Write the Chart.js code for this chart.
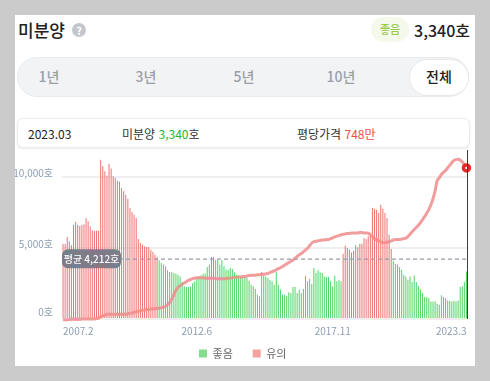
<!DOCTYPE html>
<html lang="ko">
<head>
<meta charset="utf-8">
<script src="https://cdn.jsdelivr.net/npm/chart.js@4"></script>
<style>
  * { box-sizing: border-box; }
  body { margin: 0; width: 490px; height: 381px; background: #cbcbcb; overflow: hidden; font-family: "Noto Sans CJK KR", "Noto Sans", sans-serif; color: #222; }
  #panel { position: absolute; left: 15px; top: 15px; width: 460px; height: 351px; background: #fff; }
  .abs { position: absolute; white-space: nowrap; line-height: 1; }
  #title { left: 3px; top: 6px; font-size: 17px; font-weight: 500; line-height: 18px; }
  #help { left: 57px; top: 8px; width: 14px; height: 14px; border-radius: 50%; background: #c3c6cb; color: #fff; font-size: 11px; font-weight: 700; line-height: 14px; text-align: center; }
  #badge { left: 356px; top: 2px; width: 38px; height: 25px; border-radius: 13px; background: #f4f9ec; color: #9acb4b; font-size: 11px; font-weight: 500; line-height: 25px; text-align: center; }
  #now { right: 5px; top: 6px; font-size: 16px; font-weight: 500; line-height: 18px; }
  #tabs { left: 2px; top: 42px; width: 452px; height: 40px; border-radius: 20px; background: #f1f3f5; border: 1px solid #e9ebee; }
  .tab { top: 50px; width: 60px; text-align: center; font-size: 14px; font-weight: 500; color: #9a9fa7; line-height: 22px; }
  #active { left: 394px; top: 44px; width: 60px; height: 37px; border-radius: 19px; background: #fff; border: 1px solid #e8e9eb; }
  #info { left: 2px; top: 103px; width: 453px; height: 30px; border-radius: 6px; background: #fff; border: 1px solid #ececec; box-shadow: 0 1px 2px rgba(0,0,0,.08); }
  .cell { top: 111px; font-size: 12px; line-height: 15px; color: #333; }
  canvas { position: absolute; left: 0; top: 135px; }
</style>
</head>
<body>
<div id="panel">
  <div class="abs" id="title">미분양</div>
  <div class="abs" id="help">?</div>
  <div class="abs" id="badge">좋음</div>
  <div class="abs" id="now">3,340호</div>
  <div class="abs" id="tabs"></div>
  <div class="abs" id="active"></div>
  <div class="abs tab" style="left:4px">1년</div>
  <div class="abs tab" style="left:101px">3년</div>
  <div class="abs tab" style="left:199px">5년</div>
  <div class="abs tab" style="left:296px">10년</div>
  <div class="abs tab" style="left:394px;color:#222">전체</div>
  <div class="abs" id="info"></div>
  <div class="abs cell" style="left:13px;color:#222">2023.03</div>
  <div class="abs cell" style="left:107px">미분양 <span style="color:#22b52f">3,340</span>호</div>
  <div class="abs cell" style="left:282px">평당가격 <span style="color:#f04b4b">748만</span></div>
  <canvas id="chart" width="460" height="219"></canvas>
</div>
<script>
const unsold = [
  5280, 5280, 5770, 5450, 5190, 6640, 6830, 6640, 6550, 6620,
  6670, 7090, 6880, 6520, 6240, 6220, 6220, 6220, 11220, 10750,
  10400, 10090, 10940, 10590, 10050, 9930, 9740, 9690, 9220, 8990,
  8750, 8470, 7820, 7530, 7350, 7110, 5630, 5350, 5230, 5120,
  5070, 5070, 4880, 4720, 4530, 4370, 4130, 3940, 3830, 3710,
  3430, 3310, 3310, 3240, 3190, 3120, 3000, 2610, 2300, 2230,
  2250, 2280, 2530, 2650, 2890, 3000, 3070, 3190, 3190, 3660,
  3830, 4370, 4370, 4180, 4180, 3830, 4130, 3710, 3470, 3470,
  3590, 3520, 3290, 3120, 3050, 2960, 2930, 3000, 2890, 2720,
  2420, 2300, 2110, 1710, 1600, 3310, 3050, 3000, 2890, 2770,
  2650, 2420, 3310, 2420, 2070, 1710, 1710, 1600, 1880, 1830,
  2250, 2250, 1830, 2070, 1830, 2110, 3050, 2650, 2820, 2460,
  3590, 3240, 3430, 3290, 3240, 2980, 2960, 2960, 2650, 2300,
  3050, 2650, 2770, 2650, 4600, 5160, 5000, 4880, 4690, 4810,
  5190, 5050, 5300, 5300, 5700, 5630, 5820, 5870, 7820, 7750,
  7700, 7460, 8050, 7770, 7460, 7110, 5940, 4930, 4110, 3870,
  3830, 3660, 3470, 3120, 3000, 2770, 3000, 2610, 3070, 2610,
  2350, 2070, 1830, 1550, 1530, 1480, 1240, 1240, 1240, 1080,
  1010, 1670, 1550, 1480, 1310, 1290, 1240, 1290, 1240, 1310,
  2250, 2300, 2610, 3340
];
const price = [
  398, 398, 398, 399, 399, 399, 399, 399, 399, 400,
  400, 400, 400, 400, 400, 400, 401, 402, 405, 407,
  409, 411, 411, 411, 411, 411, 411, 411, 411, 411,
  411, 412, 413, 414, 415, 417, 418, 419, 420, 421,
  422, 422, 423, 423, 424, 424, 425, 426, 427, 429,
  433, 438, 446, 456, 466, 473, 477, 480, 483, 486,
  489, 491, 493, 494, 495, 495, 495, 495, 494, 494,
  494, 494, 494, 493, 493, 493, 493, 493, 493, 494,
  494, 495, 496, 496, 497, 497, 498, 498, 499, 500,
  501, 501, 501, 502, 502, 503, 503, 504, 505, 507,
  509, 511, 513, 516, 518, 521, 524, 527, 530, 533,
  536, 540, 544, 548, 551, 555, 559, 563, 569, 575,
  578, 579, 580, 581, 582, 582, 583, 583, 585, 587,
  589, 591, 592, 594, 595, 596, 597, 597, 598, 598,
  598, 598, 599, 599, 598, 598, 598, 594, 590, 585,
  583, 580, 578, 576, 576, 577, 578, 580, 582, 583,
  583, 583, 584, 585, 586, 590, 595, 601, 606, 611,
  616, 622, 629, 636, 644, 652, 663, 677, 695, 719,
  725, 733, 738, 742, 748, 754, 760, 765, 767, 768,
  766, 762, 755, 748
];
const average = 4212;
const yTicks = [0, 5000, 10000];
const xTickLabels = ['2007.2', '2012.6', '2017.11', '2023.3'];
const legendLabels = ['좋음', '유의'];

// 2007.2 부터 2023.3 까지 월별 라벨
const months = unsold.map((v, i) => {
  const m = i + 1;
  return (2007 + Math.floor(m / 12)) + '.' + (m % 12 + 1);
});

const GREEN = '#4fd463', RED = '#ef7272', LEGEND_GREEN = '#86dc8d', LEGEND_RED = '#f5a3a0';
const FONT = '"Noto Sans CJK KR", "Noto Sans", sans-serif';

// 평균 라벨과 마지막 달 세로선
const overlay = {
  id: 'overlay',
  afterDatasetsDraw(chart) {
    const { ctx, scales, chartArea } = chart;
    const x = scales.x.getPixelForValue(months.length - 1) + 1;
    ctx.save();
    ctx.strokeStyle = '#3a3d45';
    ctx.lineWidth = 1;
    ctx.beginPath();
    ctx.moveTo(Math.round(x) + 0.5, 0);
    ctx.lineTo(Math.round(x) + 0.5, chartArea.bottom);
    ctx.stroke();

    const y = scales.y.getPixelForValue(average);
    ctx.fillStyle = 'rgba(116,118,132,0.92)';
    ctx.beginPath();
    ctx.roundRect(chartArea.left, y - 10, 59, 19, 6);
    ctx.fill();
    ctx.fillStyle = '#fff';
    ctx.font = '500 10px ' + FONT;
    ctx.textAlign = 'center';
    ctx.textBaseline = 'middle';
    ctx.fillText('평균 ' + average.toLocaleString('en-US') + '호', chartArea.left + 29.5, y);
    ctx.restore();
  }
};

new Chart(document.getElementById('chart'), {
  data: {
    labels: months,
    datasets: [
      {
        type: 'line',
        data: price,
        yAxisID: 'y2',
        order: 1,
        borderColor: 'rgba(240,140,140,0.85)',
        borderWidth: 3,
        tension: 0.3,
        clip: false,
        pointRadius: price.map((v, i) => i === price.length - 1 ? 3 : 0),
        pointBackgroundColor: '#fff',
        pointBorderColor: '#e8282e',
        pointBorderWidth: 3.5
      },
      {
        type: 'line',
        data: months.map(() => average),
        order: 2,
        borderColor: '#9a9ca8',
        borderWidth: 1.2,
        borderDash: [4, 3],
        pointRadius: 0
      },
      {
        type: 'bar',
        data: unsold,
        order: 3,
        barThickness: 1,
        inflateAmount: 0,
        backgroundColor: unsold.map(v => v > average ? RED : GREEN)
      }
    ]
  },
  options: {
    responsive: false,
    animation: false,
    layout: { padding: { top: 0, right: 4.5, bottom: 0, left: 0 } },
    scales: {
      x: {
        afterFit(axis) { axis.height = 20; axis.paddingLeft = 0; axis.paddingRight = 0; },
        grid: { display: false, drawTicks: false },
        border: { display: false },
        ticks: {
          autoSkip: false,
          maxRotation: 0,
          align: 'inner',
          padding: 6,
          color: '#8c9db4',
          font: { size: 10, family: FONT },
          callback(value, i) {
            const label = months[i];
            return xTickLabels.includes(label) ? label : '';
          }
        }
      },
      y: {
        min: 0,
        max: 11373,
        afterBuildTicks(axis) { axis.ticks = yTicks.map(value => ({ value })); },
        afterFit(axis) { axis.width = 47; axis.paddingTop = 0; axis.paddingBottom = 0; },
        grid: { color: '#efefef', lineWidth: 2, drawTicks: false },
        border: { display: false },
        ticks: {
          padding: 9,
          color: '#8c9db4',
          font: c => ({ size: 10, family: FONT, lineHeight: c.tick && c.tick.value === 0 ? 1.4 : 0.8 }),
          callback: value => [value.toLocaleString('en-US') + '호', '']
        }
      },
      y2: { display: false, min: 400, max: 772 }
    },
    plugins: {
      tooltip: { enabled: false },
      legend: {
        position: 'bottom',
        labels: {
          boxWidth: 8,
          boxHeight: 8,
          padding: 9,
          color: '#666',
          font: { size: 11, family: FONT },
          // 세로 여백은 줄이고 항목 간격만 공백으로 벌림
          generateLabels: () => legendLabels.map((text, i) => ({
            text: i === 0 ? text + '\u2003' : text,
            fillStyle: i === 0 ? LEGEND_GREEN : LEGEND_RED,
            strokeStyle: 'transparent',
            lineWidth: 0,
            fontColor: '#666'
          }))
        }
      }
    }
  },
  plugins: [overlay]
});
</script>
</body>
</html>
